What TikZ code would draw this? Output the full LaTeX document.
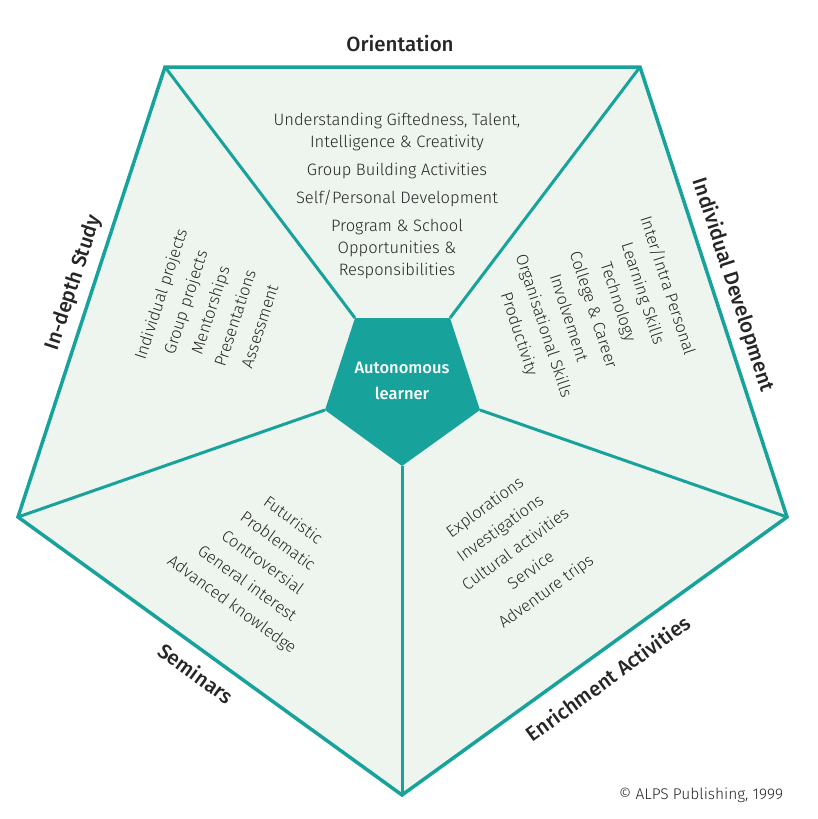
\documentclass[tikz,border=0pt]{standalone}
\usepackage{fontspec}
\setmainfont{Fira Sans Light}[BoldFont=Fira Sans Medium]
\definecolor{teal1}{HTML}{17A39B}
\definecolor{fillg}{HTML}{EEF5EE}
\begin{document}
\begin{tikzpicture}[x=1pt,y=-1pt,
  sect/.style={align=center,font=\fontsize{16.5}{26}\selectfont,text=black!85},
  osect/.style={align=center,font=\fontsize{16.5}{22}\selectfont,text=black!85},
  ttl/.style={font=\fontsize{20.5}{24}\selectfont\bfseries,text=black!85}]
\useasboundingbox (0,0) rectangle (818,819);
\coordinate (A) at (165,67); \coordinate (B) at (640,67); \coordinate (C) at (787,517);
\coordinate (D) at (402,795); \coordinate (E) at (18,517);
\coordinate (a) at (355,318); \coordinate (b) at (450,318); \coordinate (c) at (480,410);
\coordinate (d) at (402,466); \coordinate (e) at (325,410);
\draw[teal1,line width=3.5pt,fill=fillg,line join=miter] (A)--(B)--(C)--(D)--(E)--cycle;
\foreach \i/\o in {a/A,b/B,c/C,d/D,e/E} \draw[teal1,line width=3pt] (\i)--(\o);
\fill[teal1] (a)--(b)--(c)--(d)--(e)--cycle;
\node[font=\fontsize{16.5}{26}\selectfont\bfseries,text=white,align=center] (ctr) at (402,381) {Autonomous\\learner};
\node[osect] (o) at (397,196) {Understanding Giftedness, Talent,\\Intelligence \& Creativity\\[6pt]Group Building Activities\\[6pt]Self/Personal Development\\[6pt]Program \& School\\Opportunities \&\\Responsibilities};
\node[sect,rotate=-72] (i) at (593,310) {Inter/Intra Personal\\Learning Skills\\Technology\\College \& Career\\Involvement\\Organisational Skills\\Productivity};
\node[sect,rotate=72] (s) at (210,310) {Individual projects\\Group projects\\Mentorships\\Presentations\\Assessment};
\node[sect,rotate=-36] (m) at (262,563) {Futuristic\\Problematic\\Controversial\\General interest\\Advanced knowledge};
\node[sect,rotate=36] (n) at (516,550) {Explorations\\Investigations\\Cultural activities\\Service\\Adventure trips};
\node[ttl] (t1) at (400,43) {Orientation};
\node[ttl,rotate=-72] (t2) at (733,285) {Individual Development};
\node[ttl,rotate=72] (t3) at (74,283) {In-depth Study};
\node[ttl,rotate=-36] (t4) at (196,673) {Seminars};
\node[ttl,rotate=36] (t5) at (608,678) {Enrichment Activities};
\node[font=\fontsize{15.5}{17}\selectfont,text=black!85] (cp) at (701,795) {© ALPS Publishing, 1999};
\end{tikzpicture}
\end{document}
